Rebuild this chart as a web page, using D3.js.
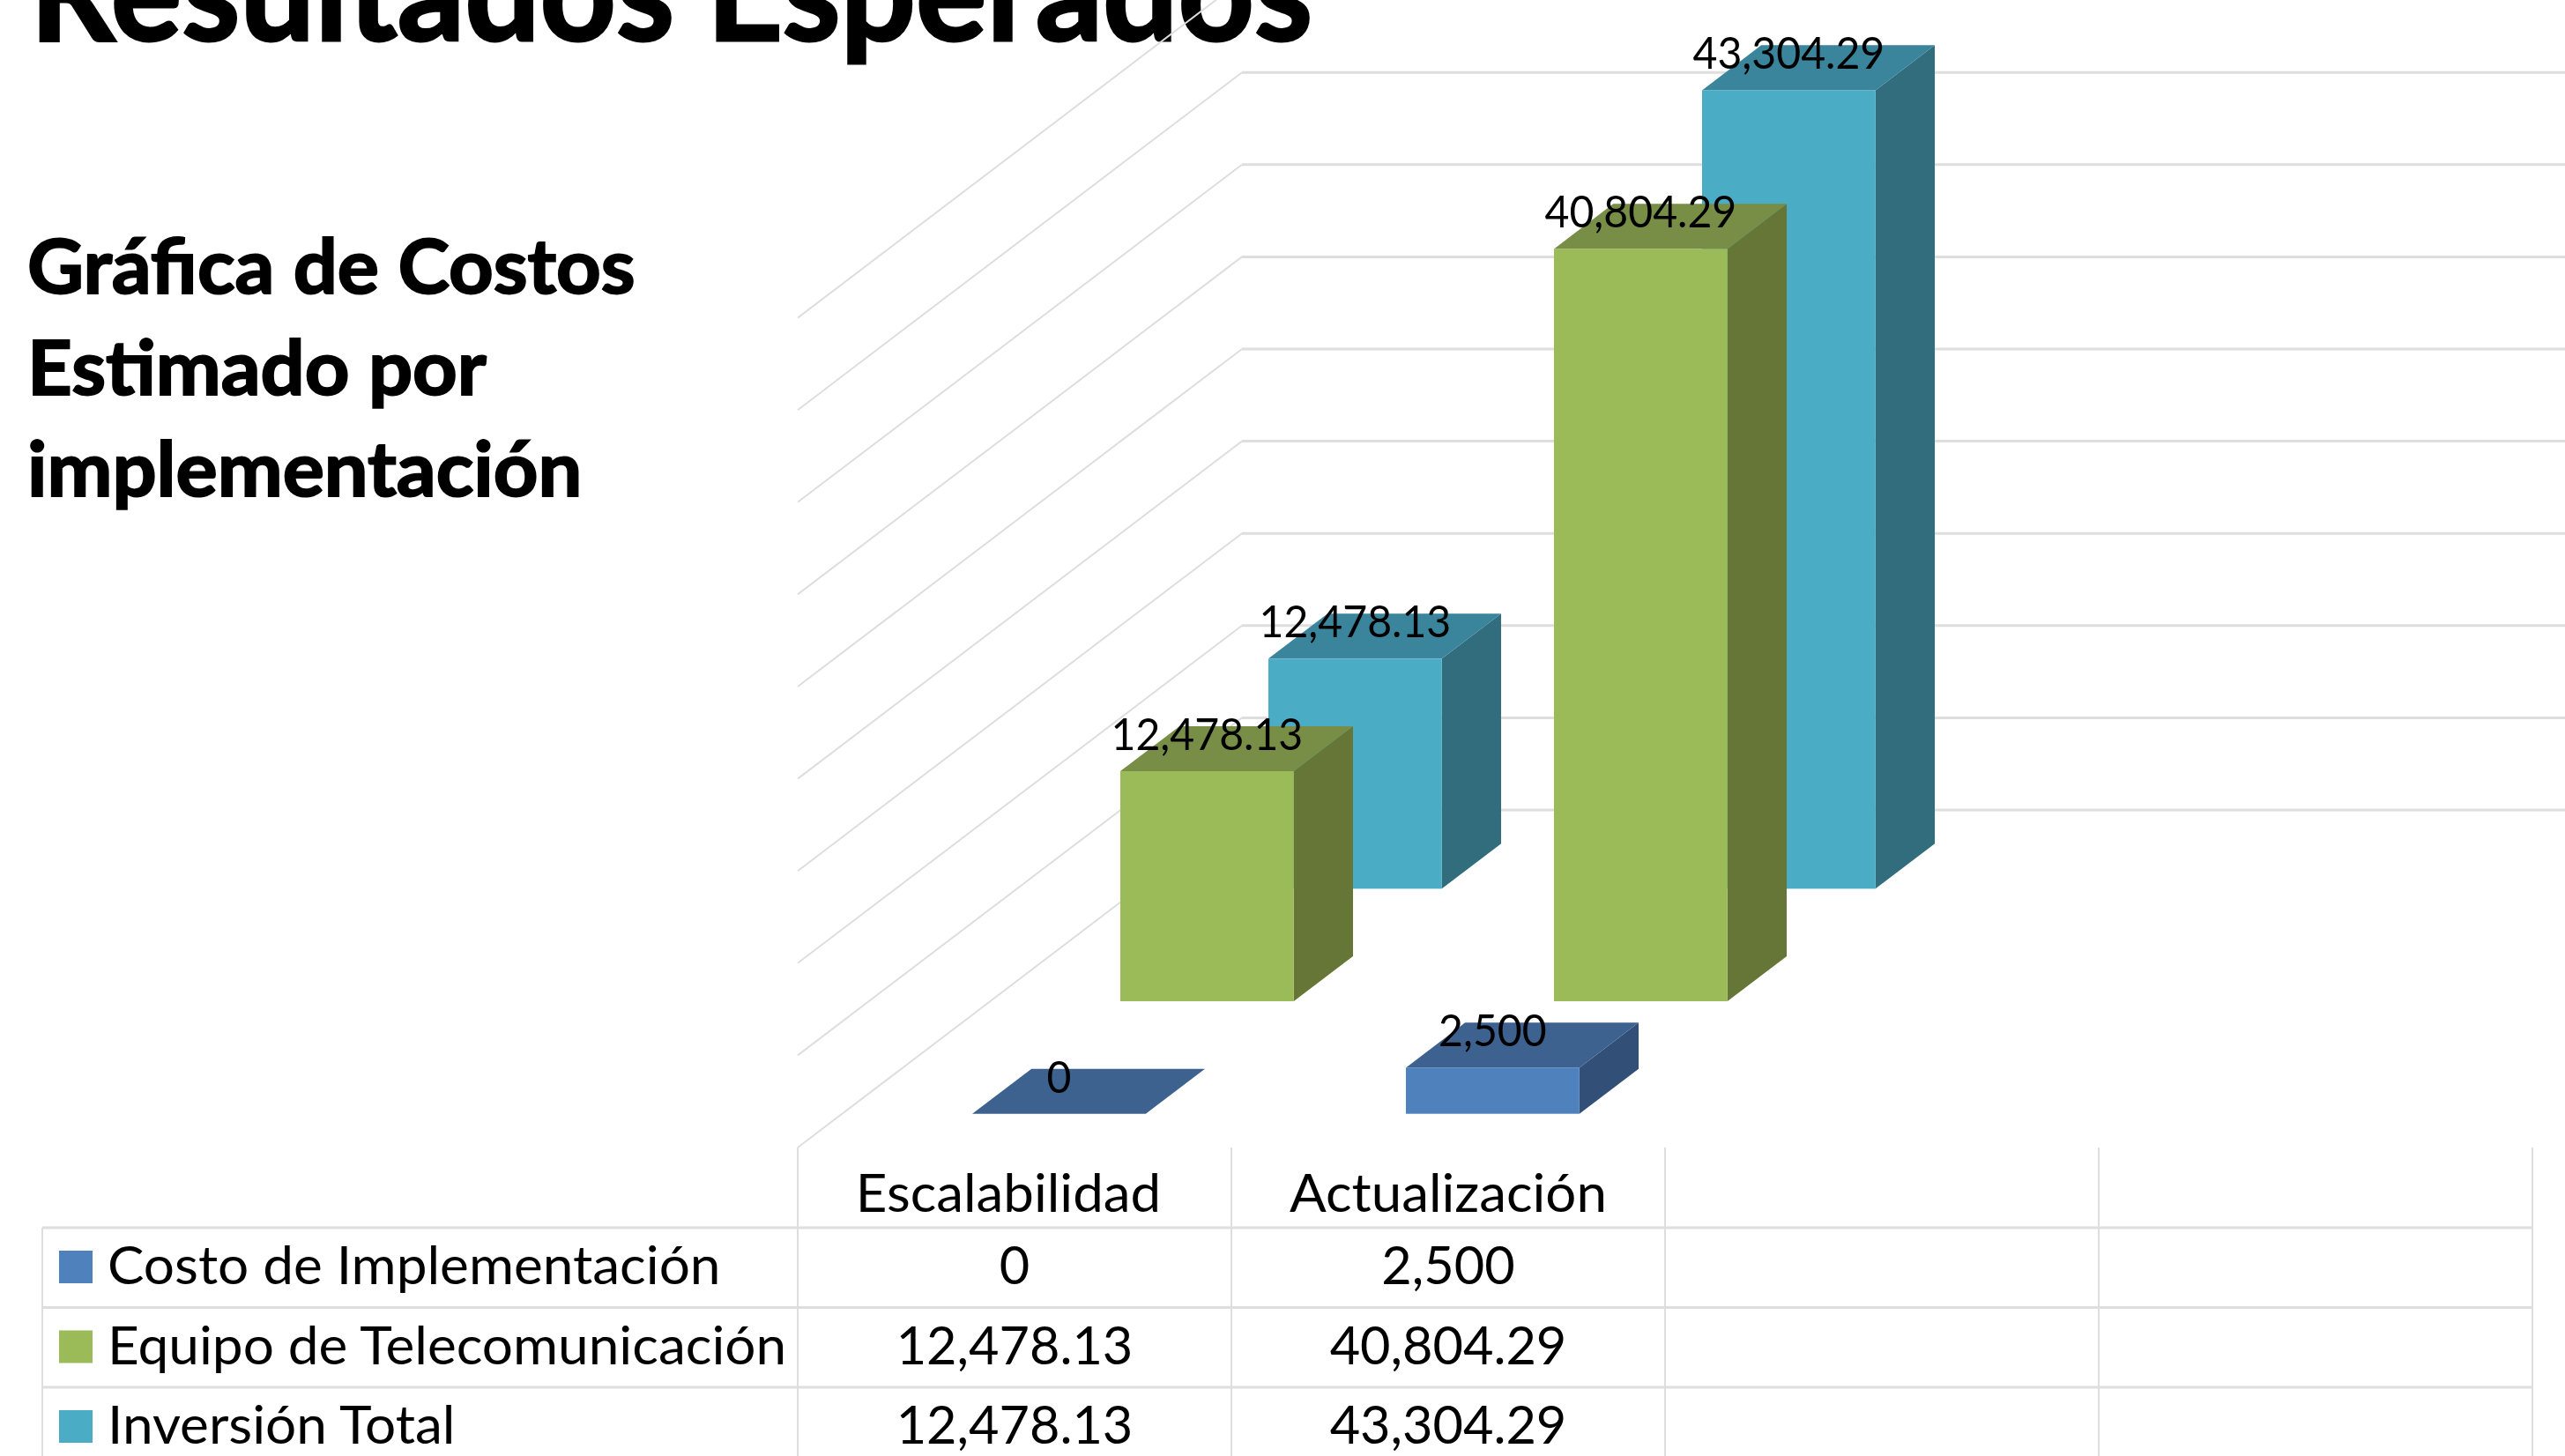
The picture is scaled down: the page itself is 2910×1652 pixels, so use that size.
<!DOCTYPE html>
<html>
<head>
<meta charset="utf-8">
<title>Resultados Esperados</title>
<script src="https://cdn.jsdelivr.net/npm/d3@7"></script>
<style>
    html, body { margin: 0; background: #fff; }
    svg { display: block; font-family: Lato, "Open Sans", sans-serif; }
</style>
</head>
<body>
<div class="container"></div>
<script>
/* Chart data */
const categories = ["Escalabilidad", "Actualización", " ", "  "];
const seriesNames = ["Costo de Implementación", "Equipo de Telecomunicación", "Inversión Total"];
const costoValues = [0, 2500];
const equipoValues = [12478.13, 40804.29];
const inversionValues = [12478.13, 43304.29];
const titleText = "Resultados Esperados";
const subtitleLines = ["Gráfica de Costos", "Estimado por", "implementación"];

const w = 2910;
const h = 1652;

/* Front, top and side colour of each series */
const frontColors = ["#4f81bd", "#9bbb59", "#4bacc6"];
const topColors = ["#3e628f", "#788e46", "#3a849c"];
const sideColors = ["#324f78", "#667636", "#326d7e"];
const gridColor = "#dedede";

const seriesValues = [costoValues, equipoValues, inversionValues];
const formatValue = d3.format(",");

/* Oblique projection: x for categories, z for the depth of the series, y for the value */
const floorLeft = 905;
const floorFront = 1302;
const depthSlope = 383 / 504;

const xScale = d3.scaleBand()
                 .domain(categories)
                 .range([floorLeft, floorLeft + 492 * categories.length])
                 .paddingInner(0.6)
                 .paddingOuter(0.3);

const zScale = d3.scaleBand()
                 .domain(seriesNames)
                 .range([0, 504])
                 .paddingInner(0.6)
                 .paddingOuter(0.3);

const yScale = d3.scaleLinear()
                 .domain([0, 45000])
                 .range([0, 941.4]);

const svg = d3.select(".container")
              .append("svg")
              .attr("width", w)
              .attr("height", h)
              .attr("viewBox", `0 0 ${w} ${h}`);

/* Fit Lato to the width of the original font */
const fit = (selection, factor) => selection
    .attr("lengthAdjust", "spacingAndGlyphs")
    .attr("textLength", function () { return this.getComputedTextLength() * factor; });

/* Titles */
svg.append("text")
   .attr("x", 34)
   .attr("y", 46)
   .attr("font-size", 158)
   .attr("font-weight", 700)
   .attr("stroke", "#000")
   .attr("stroke-width", 3)
   .text(titleText)
   .call(fit, 0.953);

svg.selectAll(".subtitle")
   .data(subtitleLines)
   .enter()
   .append("text")
   .attr("class", "subtitle")
   .attr("x", 31)
   .attr("y", (d, i) => 333 + i * 115)
   .attr("font-size", 86)
   .attr("font-weight", 700)
   .attr("stroke", "#000")
   .attr("stroke-width", 2)
   .text((d) => d)
   .call(fit, 1.027);

/* Walls of the chart */
const backRight = xScale.range()[1] + 504;
const grid = svg.append("g")
                .attr("fill", "none")
                .attr("stroke", gridColor);

yScale.ticks(9).forEach((tick) => {
    const y0 = floorFront - yScale(tick);
    grid.append("polyline")
        .attr("stroke-width", 2)
        .attr("points", [[floorLeft, y0], [floorLeft + 504, y0 - 504 * depthSlope]].join(" "));
    grid.append("line")
        .attr("stroke-width", 3)
        .attr("x1", floorLeft + 504)
        .attr("x2", backRight)
        .attr("y1", y0 - 504 * depthSlope)
        .attr("y2", y0 - 504 * depthSlope);
});

/* Bars, back series first */
const barW = xScale.bandwidth();
const barD = zScale.bandwidth();
const barDy = barD * depthSlope;

[2, 1, 0].forEach((s) => {
    const name = seriesNames[s];
    const z = zScale(name);
    const bars = svg.append("g").attr("class", "series");

    seriesValues[s].forEach((value, c) => {
        const x0 = xScale(categories[c]) + z;
        const yBase = floorFront - z * depthSlope;
        const yTop = yBase - yScale(value);
        const corner = (x, y) => `${x},${y}`;

        bars.append("polygon")
            .attr("fill", sideColors[s])
            .attr("points", [corner(x0 + barW, yBase), corner(x0 + barW + barD, yBase - barDy),
                             corner(x0 + barW + barD, yTop - barDy), corner(x0 + barW, yTop)].join(" "));
        bars.append("polygon")
            .attr("fill", topColors[s])
            .attr("points", [corner(x0, yTop), corner(x0 + barW, yTop),
                             corner(x0 + barW + barD, yTop - barDy), corner(x0 + barD, yTop - barDy)].join(" "));
        bars.append("rect")
            .attr("x", x0)
            .attr("y", yTop)
            .attr("width", barW)
            .attr("height", yScale(value))
            .attr("fill", frontColors[s]);
    });
});

/* Data labels go over all the bars */
seriesNames.forEach((name, s) => {
    seriesValues[s].forEach((value, c) => {
        svg.append("text")
           .attr("x", xScale(categories[c]) + zScale(name) + barW / 2)
           .attr("y", floorFront - zScale(name) * depthSlope - yScale(value) - 24)
           .attr("text-anchor", "middle")
           .attr("font-size", 50)
           .text(formatValue(value))
           .call(fit, 0.963);
    });
});

/* Data table */
const rowScale = d3.scaleBand()
                   .domain(seriesNames)
                   .range([1393, 1393 + 90.5 * seriesNames.length]);
const colScale = d3.scaleBand()
                   .domain(categories)
                   .range(xScale.range());

const table = svg.append("g");

seriesNames.forEach((name) => {
    table.append("line")
         .attr("x1", 48)
         .attr("x2", colScale.range()[1])
         .attr("y1", rowScale(name))
         .attr("y2", rowScale(name))
         .attr("stroke", gridColor)
         .attr("stroke-width", 3);
});

[floorLeft, ...categories.map((d) => colScale(d) + colScale.bandwidth())].forEach((x) => {
    table.append("line")
         .attr("x1", x)
         .attr("x2", x)
         .attr("y1", floorFront)
         .attr("y2", h)
         .attr("stroke", gridColor)
         .attr("stroke-width", 2);
});

table.append("line")
     .attr("x1", 48)
     .attr("x2", 48)
     .attr("y1", rowScale(seriesNames[0]))
     .attr("y2", h)
     .attr("stroke", gridColor)
     .attr("stroke-width", 2);

categories.slice(0, 2).forEach((cat, i) => {
    table.append("text")
         .attr("x", colScale(cat) + colScale.bandwidth() / 2 - (i === 0 ? 7 : 0))
         .attr("y", 1375)
         .attr("text-anchor", "middle")
         .attr("font-size", 60)
         .text(cat)
         .call(fit, 1.03);
});

seriesNames.forEach((name, s) => {
    const rowY = rowScale(name);

    /* legend key */
    table.append("rect")
         .attr("x", 67)
         .attr("y", rowY + 26)
         .attr("width", 38)
         .attr("height", 37)
         .attr("fill", frontColors[s]);

    table.append("text")
         .attr("x", 122)
         .attr("y", rowY + 64)
         .attr("font-size", 60)
         .text(name)
         .call(fit, 1.035);

    seriesValues[s].forEach((value, c) => {
        table.append("text")
             .attr("x", colScale(categories[c]) + colScale.bandwidth() / 2)
             .attr("y", rowY + 64)
             .attr("text-anchor", "middle")
             .attr("font-size", 60)
             .text(formatValue(value))
             .call(fit, 0.99);
    });
});
</script>
</body>
</html>
